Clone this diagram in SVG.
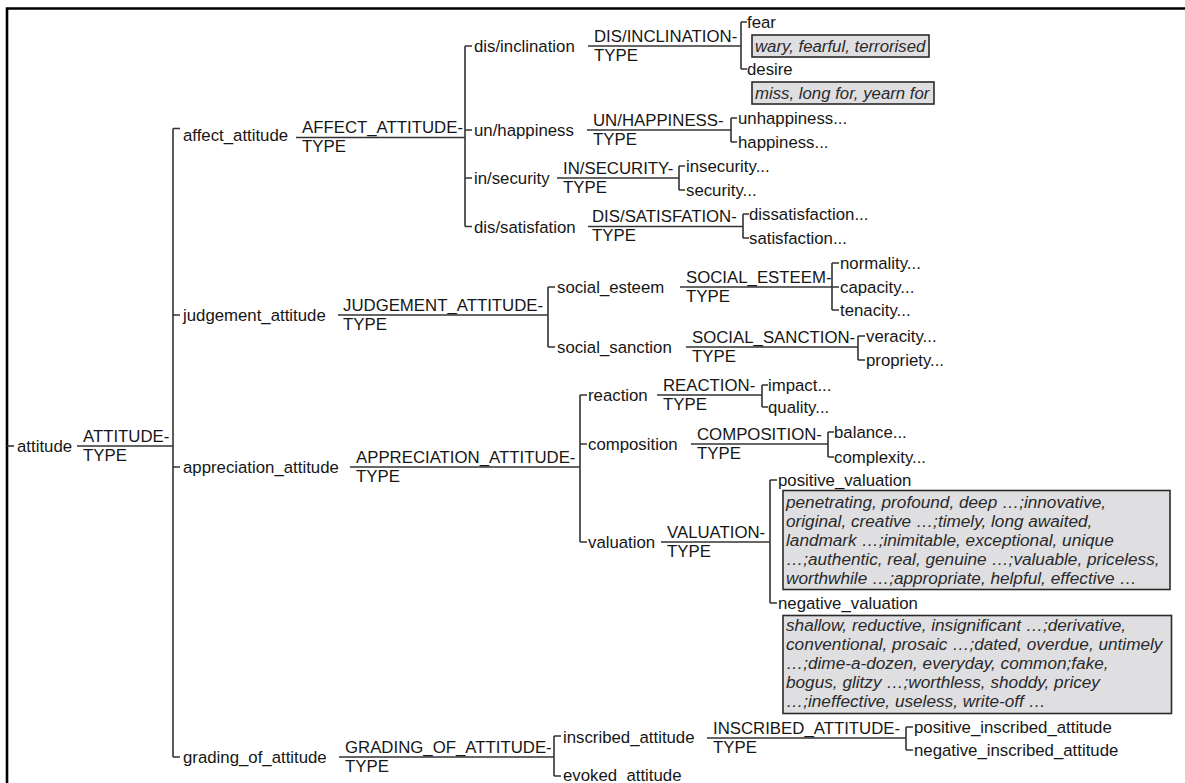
<svg xmlns="http://www.w3.org/2000/svg" width="1185" height="783" viewBox="0 0 1185 783">
<style>
text{font-family:"Liberation Sans",Arial,sans-serif;font-size:16.8px;fill:#161616}
.it{font-style:italic;fill:#2a2a2a}
.big{font-size:17.2px}
.ln{stroke:#333;stroke-width:1.6;fill:none}
.box{fill:#dfdfe2;stroke:#2a2a2a;stroke-width:1.6}
</style>
<rect width="1185" height="783" fill="#fff"/>
<path d="M7 783 V8.5 H1185" fill="none" stroke="#000" stroke-width="2.6"/>

<g id="connectors" class="ln">
<path d="M7 446 H14"/>
<path d="M173 128.5 V757 M173 128.5 H180 M173 315 H180 M173 467 H180 M173 757 H180"/>
<path d="M465 46 V226.5 M465 46 H472 M465 130 H472 M465 178 H472 M465 226.5 H472"/>
<path d="M548 287 V347 M548 287 H555 M548 347 H555"/>
<path d="M580 395 V542 M580 395 H587 M580 444 H587 M580 542 H587"/>
<path d="M554 736 V776 M554 736 H561 M554 776 H561"/>
<path d="M741 22 V69 M741 22 H747 M741 69 H747"/>
<path d="M731 118 V142 M731 118 H737 M731 142 H737"/>
<path d="M679 166 V190 M679 166 H685 M679 190 H685"/>
<path d="M743 214 V238 M743 214 H749 M743 238 H749"/>
<path d="M832 263 V310 M832 263 H839 M832 287 H839 M832 310 H839"/>
<path d="M858 336 V360 M858 336 H865 M858 360 H865"/>
<path d="M762 385 V407 M762 385 H768 M762 407 H768"/>
<path d="M828 432 V457 M828 432 H834 M828 457 H834"/>
<path d="M770 480 V603 M770 480 H777 M770 603 H777"/>
<path d="M906 727 V750 M906 727 H913 M906 750 H913"/>
</g>

<g id="n-attitude"><text x="17" y="452">attitude</text><line class="ln" x1="77" y1="446" x2="173" y2="446"/><text x="83" y="441.5">ATTITUDE-</text><text x="83" y="460.5">TYPE</text></g>

<g id="n-affect"><text x="183" y="141">affect_attitude</text><line class="ln" x1="296" y1="137.5" x2="465" y2="137.5"/><text x="302" y="133">AFFECT_ATTITUDE-</text><text x="302" y="152">TYPE</text></g>
<g id="n-judgement"><text x="183" y="321">judgement_attitude</text><line class="ln" x1="338" y1="315" x2="548" y2="315"/><text x="343" y="310.5">JUDGEMENT_ATTITUDE-</text><text x="343" y="329.5">TYPE</text></g>
<g id="n-appreciation"><text x="183" y="473">appreciation_attitude</text><line class="ln" x1="350" y1="467" x2="580" y2="467"/><text x="356" y="462.5">APPRECIATION_ATTITUDE-</text><text x="356" y="481.5">TYPE</text></g>
<g id="n-grading"><text x="183" y="763">grading_of_attitude</text><line class="ln" x1="339" y1="757" x2="554" y2="757"/><text x="345" y="752.5">GRADING_OF_ATTITUDE-</text><text x="345" y="771.5">TYPE</text></g>

<g id="n-disinclination"><text x="474" y="52">dis/inclination</text><line class="ln" x1="588" y1="46" x2="741" y2="46"/><text x="594" y="41.5">DIS/INCLINATION-</text><text x="594" y="60.5">TYPE</text></g>
<g id="n-unhappiness"><text x="474" y="136">un/happiness</text><line class="ln" x1="587" y1="130" x2="731" y2="130"/><text x="593" y="125.5">UN/HAPPINESS-</text><text x="593" y="144.5">TYPE</text></g>
<g id="n-insecurity"><text x="474" y="184">in/security</text><line class="ln" x1="557" y1="178" x2="679" y2="178"/><text x="563" y="173.5">IN/SECURITY-</text><text x="563" y="192.5">TYPE</text></g>
<g id="n-dissatisfation"><text x="474" y="232.5">dis/satisfation</text><line class="ln" x1="588" y1="226.5" x2="743" y2="226.5"/><text x="592" y="222">DIS/SATISFATION-</text><text x="592" y="241">TYPE</text></g>

<g id="n-fear"><text x="747" y="28">fear</text><rect class="box" x="752" y="35" width="177" height="22"/><text class="it" x="755" y="51.5">wary, fearful, terrorised</text></g>
<g id="n-desire"><text x="747" y="75">desire</text><rect class="box" x="752" y="82" width="182" height="22"/><text class="it" x="755" y="98.5">miss, long for, yearn for</text></g>
<g id="n-unhappiness-leaf"><text x="738" y="124">unhappiness...</text></g>
<g id="n-happiness"><text x="738" y="148">happiness...</text></g>
<g id="n-insecurity-leaf"><text x="686" y="172">insecurity...</text></g>
<g id="n-security"><text x="686" y="196">security...</text></g>
<g id="n-dissatisfaction"><text x="749" y="220">dissatisfaction...</text></g>
<g id="n-satisfaction"><text x="749" y="244">satisfaction...</text></g>

<g id="n-social-esteem"><text x="557" y="292.5">social_esteem</text><line class="ln" x1="680" y1="287" x2="832" y2="287"/><text x="686" y="282.5">SOCIAL_ESTEEM-</text><text x="686" y="301.5">TYPE</text></g>
<g id="n-social-sanction"><text x="557" y="353">social_sanction</text><line class="ln" x1="686" y1="347" x2="858" y2="347"/><text x="692" y="342.5">SOCIAL_SANCTION-</text><text x="692" y="361.5">TYPE</text></g>
<g id="n-normality"><text x="840" y="269">normality...</text></g>
<g id="n-capacity"><text x="840" y="293">capacity...</text></g>
<g id="n-tenacity"><text x="840" y="316">tenacity...</text></g>
<g id="n-veracity"><text x="866" y="342">veracity...</text></g>
<g id="n-propriety"><text x="866" y="366">propriety...</text></g>

<g id="n-reaction"><text x="588" y="401">reaction</text><line class="ln" x1="657" y1="395" x2="762" y2="395"/><text x="663" y="390.5">REACTION-</text><text x="663" y="409.5">TYPE</text></g>
<g id="n-composition"><text x="588" y="450">composition</text><line class="ln" x1="691" y1="444" x2="828" y2="444"/><text x="697" y="439.5">COMPOSITION-</text><text x="697" y="458.5">TYPE</text></g>
<g id="n-valuation"><text x="588" y="548">valuation</text><line class="ln" x1="661" y1="542" x2="770" y2="542"/><text x="667" y="537.5">VALUATION-</text><text x="667" y="556.5">TYPE</text></g>
<g id="n-impact"><text x="768" y="391">impact...</text></g>
<g id="n-quality"><text x="768" y="413">quality...</text></g>
<g id="n-balance"><text x="834" y="438">balance...</text></g>
<g id="n-complexity"><text x="834" y="463">complexity...</text></g>

<g id="n-positive-valuation"><text x="778" y="486">positive_valuation</text>
<rect class="box" x="783" y="490.5" width="387" height="99"/>
<text class="it big" x="786"><tspan x="786" y="508">penetrating, profound, deep …;innovative,</tspan><tspan x="786" y="527">original, creative …;timely, long awaited,</tspan><tspan x="786" y="546">landmark …;inimitable, exceptional, unique</tspan><tspan x="786" y="565">…;authentic, real, genuine …;valuable, priceless,</tspan><tspan x="786" y="584">worthwhile …;appropriate, helpful, effective …</tspan></text></g>
<g id="n-negative-valuation"><text x="778" y="609">negative_valuation</text>
<rect class="box" x="783" y="615.5" width="388.5" height="98"/>
<text class="it big" x="786"><tspan x="786" y="631">shallow, reductive, insignificant …;derivative,</tspan><tspan x="786" y="650">conventional, prosaic …;dated, overdue, untimely</tspan><tspan x="786" y="669">…;dime-a-dozen, everyday, common;fake,</tspan><tspan x="786" y="688">bogus, glitzy …;worthless, shoddy, pricey</tspan><tspan x="786" y="707">…;ineffective, useless, write-off …</tspan></text></g>

<g id="n-inscribed"><text x="563" y="743">inscribed_attitude</text><line class="ln" x1="707" y1="738" x2="906" y2="738"/><text x="713" y="733.5">INSCRIBED_ATTITUDE-</text><text x="713" y="752.5">TYPE</text></g>
<g id="n-evoked"><text x="563" y="781">evoked_attitude</text></g>
<g id="n-positive-inscribed"><text x="914" y="733">positive_inscribed_attitude</text></g>
<g id="n-negative-inscribed"><text x="914" y="756">negative_inscribed_attitude</text></g>
</svg>
